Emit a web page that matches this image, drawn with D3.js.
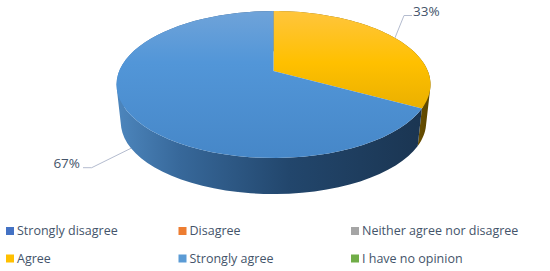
<!DOCTYPE html>
<html>
<head>
<meta charset="utf-8">
<style>
  html, body { margin: 0; padding: 0; background: #fff; }
  text { font-family: "Open Sans", sans-serif; fill: #44546a; }
</style>
<script src="https://cdn.jsdelivr.net/npm/d3@7/dist/d3.min.js"></script>
</head>
<body>
<svg id="chart" width="550" height="271"></svg>
<script>
var categories = ['Strongly disagree', 'Disagree', 'Neither agree nor disagree', 'Agree', 'Strongly agree', 'I have no opinion'];
var values = [0, 0, 0, 33, 67, 0];
var colors = ['#4472c4', '#ed7d31', '#a5a5a5', '#ffc000', '#5b9bd5', '#70ad47'];

var svg = d3.select('#chart');
var defs = svg.append('defs');

// the disc is tilted in perspective, so the centre sits above the middle of the ellipse
var tilt = 0.184;
function project(plane, a) {
  var u = Math.sin(a), v = -Math.cos(a), d = 1 - tilt * v;
  return [plane.cx + plane.rx * u / d, plane.cy + plane.ry * v / d];
}
var topPlane = {cx: 273.5, rx: 154.3, ry: 71, cy: 71},
    bottomPlane = {cx: 273.5, rx: 150, ry: 69, cy: 109.5};

function rim(plane, a0, a1) {
  return d3.range(0, 61).map(function(i) {
    return project(plane, a0 + (a1 - a0) * i / 60);
  });
}

function gradient(id, horizontal, stops) {
  var g = defs.append('linearGradient')
    .attr('id', id)
    .attr('gradientUnits', 'userSpaceOnUse')
    .attr('x1', horizontal ? 117 : 0).attr('x2', horizontal ? 431 : 0)
    .attr('y1', horizontal ? 0 : 11).attr('y2', horizontal ? 0 : 158);
  stops.forEach(function(s) {
    g.append('stop').attr('offset', s[0]).attr('stop-color', s[1]);
  });
}
gradient('top3', false, [[0, '#ffc53d'], [0.35, '#ffc000'], [0.7, '#e8ae00'], [1, '#dda500']]);
gradient('top4', false, [[0, '#6fa3d9'], [0.35, '#5296d8'], [1, '#4687c8']]);
gradient('side3', true, [[0.9, '#7d5e00'], [1, '#5a4400']]);
gradient('side4', true, [[0, '#4d86bd'], [0.2, '#37689a'], [0.55, '#22466c'], [1, '#1a3450']]);

var pie = d3.pie().sort(null).value(function(d) { return d; });
var arcs = pie(values);
var line = d3.line();

var slices = arcs.map(function(d, i) { return {arc: d, i: i}; })
  .filter(function(d) { return d.arc.value > 0; });

// wall as quads wound the same way, so the rims crossing at the sides leave no notch
function wall(a0, a1) {
  var t = rim(topPlane, a0, a1), b = rim(bottomPlane, a0, a1);
  return d3.range(0, 60).map(function(i) {
    var quad = [t[i], t[i + 1], b[i + 1], b[i]];
    if (d3.polygonArea(quad) < 0) quad.reverse();
    return line(quad) + 'Z';
  }).join('');
}

svg.append('g').selectAll('path').data(slices)
  .enter().append('path')
  .attr('d', function(d) { return wall(d.arc.startAngle, d.arc.endAngle); })
  .attr('fill', function(d) { return 'url(#side' + d.i + ')'; });

svg.append('g').selectAll('path').data(slices)
  .enter().append('path')
  .attr('d', function(d) {
    return line([[topPlane.cx, topPlane.cy]]
      .concat(rim(topPlane, d.arc.startAngle, d.arc.endAngle))) + 'Z';
  })
  .attr('fill', function(d) { return 'url(#top' + d.i + ')'; });

// leader lines and percent labels
var labels = slices.map(function(d) {
  var mid = (d.arc.startAngle + d.arc.endAngle) / 2,
      right = mid < Math.PI,
      start = project(right ? topPlane : bottomPlane, mid),
      elbow = right ? [404, 15.5] : [91.7, 167.7],
      end = right ? [412, 15.5] : [83, 167.7];
  return {text: d.arc.value + '%', points: [start, elbow, end], right: right};
});

svg.append('g').selectAll('path').data(labels)
  .enter().append('path')
  .attr('d', function(d) { return line(d.points); })
  .attr('fill', 'none')
  .attr('stroke', '#b4bccf')
  .attr('stroke-width', 1);

svg.append('g').selectAll('text').data(labels)
  .enter().append('text')
  .attr('x', function(d) { return d.right ? 413 : 80; })
  .attr('y', function(d) { return d.right ? 11.5 : 163.5; })
  .attr('dy', '0.35em')
  .attr('text-anchor', function(d) { return d.right ? 'start' : 'end'; })
  .style('font-size', '13.5px')
  .text(function(d) { return d.text; });

// legend, three columns by two rows
var colX = d3.scalePoint().domain([0, 1, 2]).range([6, 351]),
    rowY = d3.scalePoint().domain([0, 1]).range([231, 258.5]);

var items = svg.append('g').selectAll('g').data(categories)
  .enter().append('g')
  .attr('transform', function(d, i) {
    return 'translate(' + colX(i % 3) + ',' + rowY(Math.floor(i / 3)) + ')';
  });
items.append('rect')
  .attr('y', -4).attr('width', 8).attr('height', 8)
  .attr('fill', function(d, i) { return colors[i]; });
items.append('text')
  .attr('x', 11)
  .attr('dy', '0.35em')
  .style('font-size', '12.5px')
  .text(function(d) { return d; });
</script>
</body>
</html>
